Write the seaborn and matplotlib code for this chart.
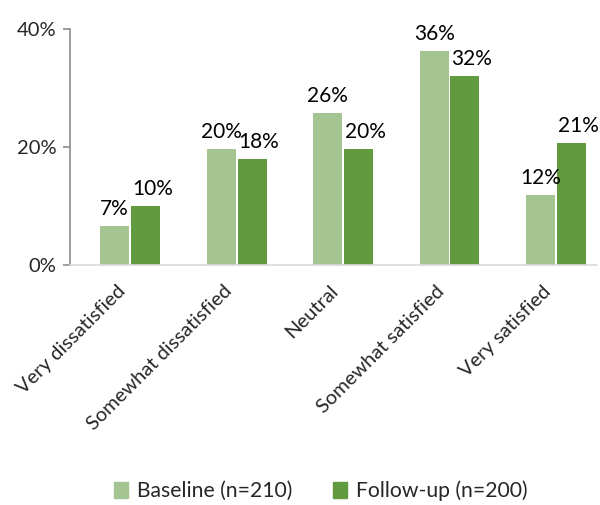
import matplotlib
matplotlib.use("Agg")
import matplotlib.pyplot as plt
import matplotlib.transforms as mtransforms
import pandas as pd
import seaborn as sns
from matplotlib.ticker import FuncFormatter

# values (percent)
categories = ["Very dissatisfied", "Somewhat dissatisfied", "Neutral",
              "Somewhat satisfied", "Very satisfied"]
baseline = [6.7, 19.6, 25.8, 36.3, 11.9]
followup = [10.0, 18.0, 19.6, 32.0, 20.6]
groups = ["Baseline (n=210)", "Follow-up (n=200)"]
colors = ["#a4c591", "#629a3f"]

df = pd.DataFrame({
    "category": categories * 2,
    "group": [groups[0]] * len(categories) + [groups[1]] * len(categories),
    "pct": baseline + followup,
})

sns.set_style("white")
plt.rcParams["font.family"] = ["Lato", "DejaVu Sans"]

fig = plt.figure(figsize=(6.0, 5.05), dpi=100)
ax = fig.add_axes([0.117, 0.475, 0.878, 0.468])

sns.barplot(data=df, x="category", y="pct", hue="group", order=categories,
            hue_order=groups, palette=colors, width=0.58, gap=0.06,
            saturation=1, edgecolor="none", ax=ax)

# data labels, follow-up shifted a little right like the original
for i, cont in enumerate(ax.containers):
    dx = 0 if i == 0 else 5
    for bar in cont:
        h = bar.get_height()
        ax.annotate(f"{round(h):.0f}%", (bar.get_x() + bar.get_width() / 2, h),
                    xytext=(dx, 5), textcoords="offset points",
                    ha="center", va="bottom", fontsize=15, color="black")

ax.set_ylim(0, 40)
ax.set_yticks([0, 20, 40])
ax.yaxis.set_major_formatter(FuncFormatter(lambda v, p: f"{v:.0f}%"))
ax.set_xlim(-0.563, 4.385)
ax.set_xlabel("")
ax.set_ylabel("")

for s in ["top", "right"]:
    ax.spines[s].set_visible(False)
ax.spines["left"].set_color("#8c8c8c")
ax.spines["bottom"].set_color("#d9d9d9")
ax.spines["left"].set_linewidth(1.2)
ax.spines["bottom"].set_linewidth(1.2)

ax.tick_params(axis="y", left=True, length=5, width=1.2, color="#8c8c8c",
               labelsize=14.5, pad=5)
ax.tick_params(axis="x", bottom=False, labelsize=14.5, pad=4)
shift = mtransforms.ScaledTranslation(-10 / 72, -5 / 72, fig.dpi_scale_trans)
for lbl in ax.get_xticklabels():
    lbl.set_rotation(45)
    lbl.set_ha("right")
    lbl.set_rotation_mode("anchor")
    lbl.set_transform(lbl.get_transform() + shift)

ax.get_legend().remove()
handles = [plt.Rectangle((0, 0), 1, 1, color=c) for c in colors]
fig.legend(handles, groups, loc="lower center", bbox_to_anchor=(0.535, -0.03),
           ncol=2, frameon=False, fontsize=15.2, handlelength=0.65,
           handleheight=0.8, handletextpad=0.45, columnspacing=1.9)

fig.savefig("out.png", dpi=100)
